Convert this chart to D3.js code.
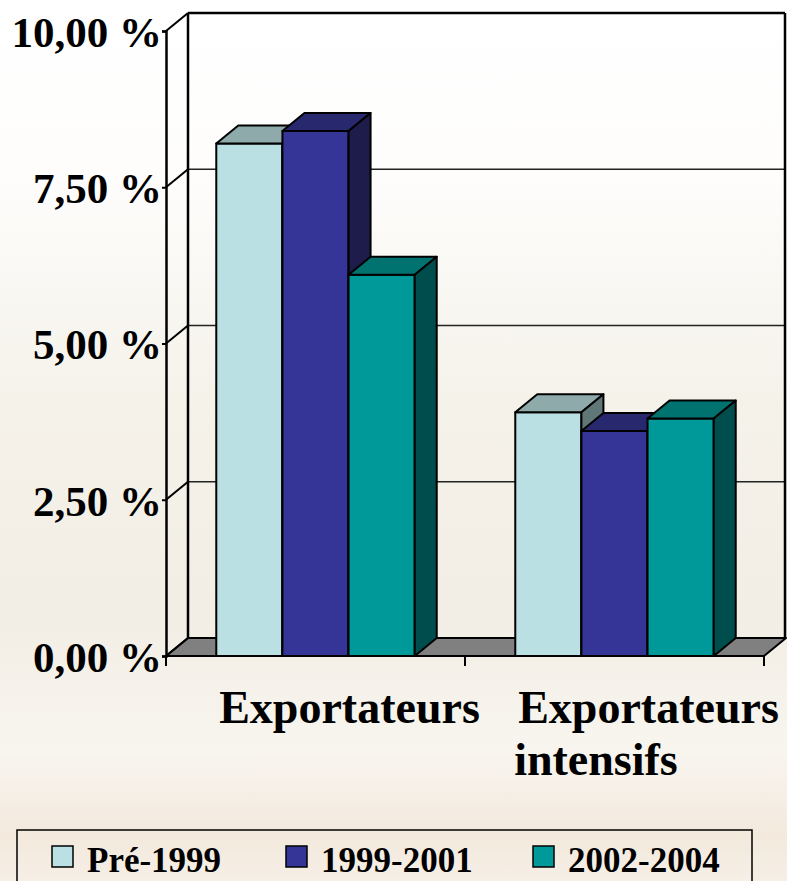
<!DOCTYPE html>
<html>
<head>
<meta charset="utf-8">
<script src="https://cdn.jsdelivr.net/npm/d3@7"></script>
<style>
  html, body { margin: 0; padding: 0; background: #fff; }
  svg { display: block; }
</style>
</head>
<body>
<svg id="chart" width="787" height="881"></svg>
<script>
// ---- data ----
const categories = ["Exportateurs", "Exportateurs intensifs"];
const categoryLines = [["Exportateurs"], ["Exportateurs", "intensifs"]];
const series = ["Pré-1999", "1999-2001", "2002-2004"];
const pre1999 = [8.2, 3.9];
const p1999to2001 = [8.4, 3.6];
const p2002to2004 = [6.1, 3.8];
const yTicks = [0, 2.5, 5, 7.5, 10];
const yTickLabels = ["0,00 %", "2,50 %", "5,00 %", "7,50 %", "10,00 %"];

const seriesValues = [pre1999, p1999to2001, p2002to2004];
const colors = {
  "Pré-1999":  { front: "#bbe0e3", top: "#8eaaab", side: "#5f7777" },
  "1999-2001": { front: "#353598", top: "#28286f", side: "#1d1c4b" },
  "2002-2004": { front: "#009999", top: "#007370", side: "#004d4d" }
};

// ---- layout ----
const svg = d3.select("#chart");
const W = 787, H = 881;
const left = 166, right = 764;
const depthX = 22, depthY = -18;

const y = d3.scaleLinear().domain([0, 10]).range([656, 31]);
const xCat = d3.scaleBand().domain(categories).range([left, right]).padding(0);
const xSer = d3.scaleBand().domain(series).range([0, xCat.bandwidth()])
  .paddingInner(0).paddingOuter(0.76);

// background gradient
const defs = svg.append("defs");
const grad = defs.append("linearGradient").attr("id", "bg")
  .attr("x1", 0).attr("y1", 0).attr("x2", 0).attr("y2", 1);
[[0, "#ffffff"], [0.2, "#fefdfc"], [0.45, "#f5f2ea"], [0.7, "#f2eee5"],
 [0.85, "#f8f5ef"], [0.95, "#f3e9dd"], [1, "#f6efe6"]]
  .forEach(([o, c]) => grad.append("stop").attr("offset", o).attr("stop-color", c));
svg.append("rect").attr("width", W).attr("height", H).attr("fill", "url(#bg)");

const g = svg.append("g");
const line = (pts) => "M" + pts.map(p => p.join(",")).join("L") + "Z";

// floor
const y0 = y(0);
g.append("path")
  .attr("d", line([[left, y0], [left + depthX, y0 + depthY], [right + depthX, y0 + depthY], [right, y0]]))
  .attr("fill", "#808080").attr("stroke", "#000").attr("stroke-width", 2).attr("stroke-linejoin", "round");

// back wall gridlines and side wall diagonals
yTicks.forEach(t => {
  const yf = y(t), yb = y(t) + depthY;
  if (t > 0) {
    g.append("line").attr("x1", left + depthX).attr("x2", right + depthX - 1)
      .attr("y1", yb).attr("y2", yb)
      .attr("stroke", t === 10 ? "#000" : "#222").attr("stroke-width", t === 10 ? 2.5 : 1.6);
  }
  g.append("line").attr("x1", left).attr("y1", yf).attr("x2", left + depthX).attr("y2", yb)
    .attr("stroke", "#000").attr("stroke-width", 2);
});
// back wall verticals
g.append("line").attr("x1", left + depthX).attr("x2", left + depthX)
  .attr("y1", y(10) + depthY).attr("y2", y(0) + depthY).attr("stroke", "#000").attr("stroke-width", 2.5);
g.append("line").attr("x1", right + depthX - 1).attr("x2", right + depthX - 1)
  .attr("y1", y(10) + depthY).attr("y2", y(0) + depthY).attr("stroke", "#000").attr("stroke-width", 2.5);

// bars (drawn left to right so each bar hides the one before it)
categories.forEach((c, ci) => {
  series.forEach((s, si) => {
    const v = seriesValues[si][ci];
    const x0 = xCat(c) + xSer(s), x1 = x0 + xSer.bandwidth();
    const yt = y(v), yb = y(0);
    const col = colors[s];
    const bar = g.append("g");
    bar.append("path").attr("d", line([[x0, yt], [x1, yt], [x1, yb], [x0, yb]]))
      .attr("fill", col.front);
    bar.append("path").attr("d", line([[x0, yt], [x0 + depthX, yt + depthY], [x1 + depthX, yt + depthY], [x1, yt]]))
      .attr("fill", col.top);
    bar.append("path").attr("d", line([[x1, yt], [x1 + depthX, yt + depthY], [x1 + depthX, yb + depthY], [x1, yb]]))
      .attr("fill", col.side);
    bar.selectAll("path").attr("stroke", "#000").attr("stroke-width", 2).attr("stroke-linejoin", "round");
  });
});

// value axis
const yAxis = g.append("g").attr("transform", `translate(${left},0)`)
  .call(d3.axisLeft(y).tickValues(yTicks).tickSize(4).tickPadding(0)
    .tickFormat((d, i) => yTickLabels[i]));
yAxis.select(".domain").attr("stroke", "#000").attr("stroke-width", 2.5);
yAxis.selectAll(".tick line").attr("stroke", "#000").attr("stroke-width", 2);
yAxis.selectAll(".tick text")
  .attr("fill", "#000")
  .style("font-family", "'Liberation Serif', 'Times New Roman', serif")
  .style("font-weight", "bold").style("font-size", "43px")
  .attr("dy", "0.36em");

// front floor edge and category ticks
g.append("line").attr("x1", left).attr("x2", right).attr("y1", y0).attr("y2", y0)
  .attr("stroke", "#000").attr("stroke-width", 2);
[left, ...categories.map(c => xCat(c) + xCat.bandwidth())].forEach(xt => {
  g.append("line").attr("x1", xt).attr("x2", xt).attr("y1", y0).attr("y2", y0 + 10)
    .attr("stroke", "#000").attr("stroke-width", 2);
});

// category labels
const catFont = "'Liberation Serif', 'Times New Roman', serif";
categories.forEach((c, ci) => {
  const cx = xCat(c) + xCat.bandwidth() / 2 + 34;
  const t = g.append("text")
    .style("font-family", catFont).style("font-weight", "bold").style("font-size", "46px")
    .attr("fill", "#000");
  const first = t.append("tspan").attr("x", cx).attr("y", 723).text(categoryLines[ci][0]);
  const w = first.node().getComputedTextLength();
  first.attr("x", cx - w / 2);
  categoryLines[ci].slice(1).forEach((ln, li) => {
    t.append("tspan").attr("x", cx - w / 2 - 4).attr("y", 723 + 52 * (li + 1)).text(ln);
  });
});

// legend
const lg = svg.append("g");
lg.append("rect").attr("x", 17).attr("y", 830).attr("width", 735).attr("height", 80)
  .attr("fill", "none").attr("stroke", "#000").attr("stroke-width", 1.5);
const legendX = d3.scaleOrdinal().domain(series).range([52, 286, 533]);
series.forEach(s => {
  lg.append("rect").attr("x", legendX(s)).attr("y", 846).attr("width", 21).attr("height", 21)
    .attr("fill", colors[s].front).attr("stroke", "#000").attr("stroke-width", 1.5);
  lg.append("text").attr("x", legendX(s) + 35).attr("y", 872).text(s)
    .style("font-family", catFont).style("font-weight", "bold").style("font-size", "35px")
    .attr("fill", "#000");
});
</script>
</body>
</html>
